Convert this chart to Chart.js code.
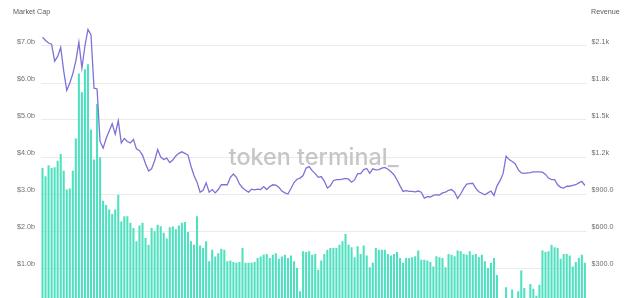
<!DOCTYPE html>
<html>
<head>
<meta charset="utf-8">
<script src="https://cdn.jsdelivr.net/npm/chart.js@4.4.1/dist/chart.umd.min.js"></script>
<style>
  html, body { margin: 0; padding: 0; background: #ffffff; overflow: hidden; }
  #wrap { width: 640px; height: 316px; }
</style>
</head>
<body>
<div id="wrap"><canvas id="c" width="640" height="316"></canvas></div>
<script>
// Daily market cap (USD billions), left axis
const marketCapB = [
  7.24, 7.15, 7.08, 7.05, 6.59, 6.72, 6.96, 6.32, 5.80, 6.00,
  6.25, 6.60, 7.10, 6.40, 7.00, 7.45, 7.30, 5.86, 5.84, 4.42,
  4.24, 4.50, 4.70, 4.90, 4.62, 4.98, 4.38, 4.50, 4.42, 4.38,
  4.47, 4.22, 4.17, 4.05, 3.82, 3.62, 3.68, 3.90, 4.20, 4.00,
  3.93, 3.97, 3.85, 3.92, 4.03,
  4.10, 4.14, 4.10, 4.05, 3.75, 3.50, 3.32, 3.05, 3.10, 3.30,
  3.05, 3.12, 3.03, 3.12, 3.25, 3.25, 3.25, 3.45, 3.54, 3.45,
  3.27, 3.17, 3.10, 3.05, 3.13, 3.11, 3.13, 3.12, 3.20, 3.12,
  3.20, 3.25, 3.24, 3.18, 3.08, 3.03, 3.00, 3.15, 3.31, 3.40,
  3.43, 3.50, 3.70, 3.74, 3.63, 3.55,
  3.45, 3.47, 3.35, 3.16, 3.22, 3.36, 3.39, 3.39, 3.40, 3.42,
  3.40, 3.32, 3.38, 3.55, 3.55, 3.66, 3.69, 3.56, 3.68, 3.65,
  3.66, 3.70, 3.72, 3.67, 3.60, 3.52, 3.38, 3.22, 3.07, 3.09,
  3.07, 3.07, 3.06, 3.08, 3.05, 2.89, 2.93, 2.92, 2.96, 2.98,
  2.97, 3.03, 3.05, 3.10, 3.12, 3.05,
  2.88, 3.00, 3.15, 3.27, 3.28, 3.29, 3.15, 3.06, 3.02, 2.98,
  3.03, 3.08, 2.96, 3.22, 3.36, 3.55, 4.02, 3.93, 3.88, 3.82,
  3.66, 3.57, 3.56, 3.57, 3.58, 3.60, 3.60, 3.60, 3.59, 3.53,
  3.43, 3.39, 3.39, 3.25, 3.18, 3.16, 3.21, 3.21, 3.23, 3.25,
  3.30, 3.34, 3.23
];

// Daily revenue (USD), right axis
const revenueUsd = [
  1110, 1044, 1134, 1110, 1116, 1170, 1224, 1089, 936, 945,
  1089, 1350, 1878, 1725, 1911, 1953, 1422, 1179, 1629, 1197,
  846, 810, 774, 738, 774, 894, 678, 720, 720, 666,
  624, 516, 645, 666, 543, 489, 624, 597, 651, 639,
  585, 540, 630, 636, 615,
  645, 666, 672, 591, 516, 489, 720, 483, 462, 516,
  354, 447, 393, 420, 456, 447, 354, 360, 348, 342,
  348, 462, 342, 342, 342, 348, 381, 393, 408, 414,
  381, 408, 420, 375, 393, 408, 381, 402, 354, 300,
  111, 435, 429, 435, 408, 414,
  285, 360, 414, 447, 462, 462, 462, 489, 516, 576,
  489, 468, 387, 477, 414, 483, 402, 306, 342, 462,
  447, 447, 447, 414, 402, 414, 429, 381, 342, 381,
  381, 387, 396, 441, 366, 366, 360, 348, 312, 396,
  387, 381, 306, 414, 408, 396, 441, 435, 414, 408,
  435, 408, 414,
  390,
  408, 354, 300, 342, 381, 243, 30, 30, 144, 30,
  126, 30, 111, 279, 138, 30, 171, 132, 75, 165,
  441, 429, 435, 489, 468, 462, 375, 414, 414, 402,
  312, 348, 381, 408, 342
];

// One category per day
const days = [];
const firstDay = new Date(Date.UTC(2022, 0, 1));
for (let i = 0; i < marketCapB.length; i++) {
  const d = new Date(firstDay.getTime() + i * 86400000);
  days.push(d.toISOString().slice(0, 10));
}

const leftTitle = 'Market Cap';
const rightTitle = 'Revenue';
const watermark = 'token terminal_';

const tickFont = { family: '"Liberation Sans", Arial, sans-serif', size: 7.2 };
const tickColor = '#707070';

const fmtCap = v => v === 0 ? '' : '$' + v.toFixed(1) + 'b';
const fmtRev = v => {
  if (v === 0) return '';
  return v >= 1000 ? '$' + (v / 1000).toFixed(1) + 'k' : '$' + v.toFixed(1);
};

const overlayText = {
  id: 'overlayText',
  beforeDatasetsDraw(chart) {
    const { ctx, chartArea: a } = chart;
    ctx.save();
    ctx.font = '500 100px Inter';
    const w = ctx.measureText(watermark).width;
    const size = 100 * 170 / w;
    ctx.font = '500 ' + size.toFixed(2) + 'px Inter';
    ctx.fillStyle = '#c6c6c6';
    ctx.textAlign = 'center';
    ctx.textBaseline = 'alphabetic';
    ctx.fillText(watermark, (a.left + a.right) / 2, (a.top + a.bottom) / 2 + 0.5);
    ctx.restore();
  },
  afterDraw(chart) {
    const { ctx } = chart;
    ctx.save();
    ctx.font = '7.2px "Liberation Sans", Arial, sans-serif';
    ctx.fillStyle = '#5a5a5a';
    ctx.textAlign = 'left';
    ctx.textBaseline = 'middle';
    ctx.fillText(leftTitle, 13, 12.5);
    ctx.fillText(rightTitle, 591, 12.5);
    ctx.restore();
  }
};

new Chart(document.getElementById('c'), {
  type: 'bar',
  data: {
    labels: days,
    datasets: [
      {
        type: 'line',
        label: leftTitle,
        data: marketCapB,
        yAxisID: 'y',
        borderColor: '#7d73d6',
        borderWidth: 1.3,
        pointRadius: 0,
        tension: 0,
        fill: false
      },
      {
        type: 'bar',
        label: rightTitle,
        data: revenueUsd,
        yAxisID: 'y1',
        backgroundColor: '#4fe0bf',
        borderWidth: 0,
        categoryPercentage: 1,
        barPercentage: 0.68
      }
    ]
  },
  options: {
    responsive: false,
    animation: false,
    events: [],
    layout: { padding: { top: 23.8, bottom: 11, left: 0, right: 0 } },
    plugins: { legend: { display: false }, tooltip: { enabled: false } },
    scales: {
      x: { display: false, offset: true },
      y: {
        position: 'left',
        min: 0,
        max: 7.6,
        border: { display: false },
        grid: { color: '#ebebeb', lineWidth: 1, drawTicks: false },
        ticks: {
          stepSize: 1,
          includeBounds: false,
          padding: 6,
          labelOffset: -3.5,
          color: tickColor,
          font: tickFont,
          callback: fmtCap
        },
        afterFit(scale) { scale.width = 41; }
      },
      y1: {
        position: 'right',
        min: 0,
        max: 2280,
        border: { display: false },
        grid: { display: false, drawTicks: false },
        ticks: {
          stepSize: 300,
          includeBounds: false,
          padding: 5,
          labelOffset: -3.5,
          color: tickColor,
          font: tickFont,
          callback: fmtRev
        },
        afterFit(scale) { scale.width = 53.6; }
      }
    }
  },
  plugins: [overlayText]
});
</script>
</body>
</html>
